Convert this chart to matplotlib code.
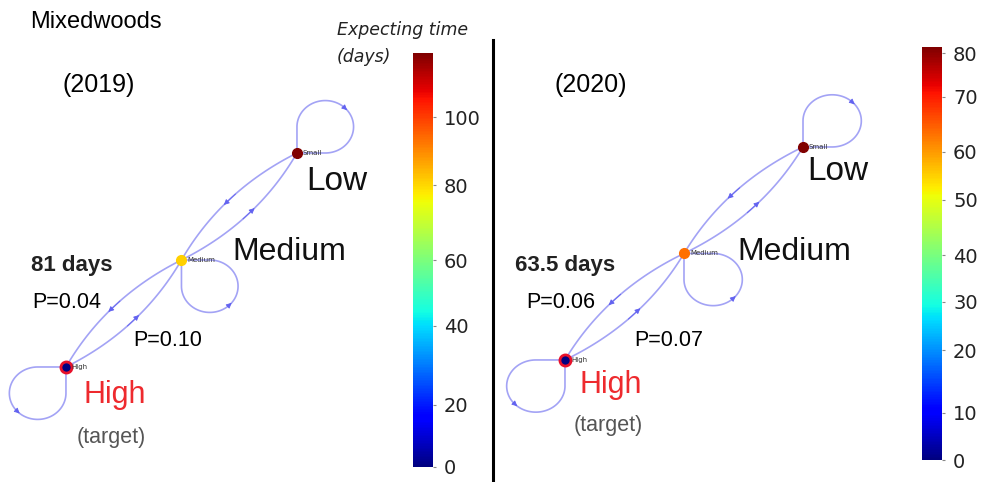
import numpy as np
import matplotlib
import matplotlib.pyplot as plt
from matplotlib.colors import FuncNorm
from matplotlib.cm import ScalarMappable
from matplotlib.patches import FancyArrowPatch

# graph: nodes laid out on a diagonal (layout units)
node_names = ['High', 'Medium', 'Small']
node_x = [0, 1, 2]
node_y = [0, 1, 2]
edges = [(2, 1), (1, 2), (1, 0), (0, 1)]        # directed transitions
loop_dirs = [(-1, -1), (1, -1), (1, 1)]          # where each self-loop sits
loop_sense = [1, 1, -1]                          # +1 ccw, -1 cw

# expected time (days) per node, coloured on the colorbar
days_2019 = [0, 81, 119]
days_2020 = [0, 63.5, 81]
p_2019 = [0.04, 0.10]
p_2020 = [0.06, 0.07]

# colorbar scales (value -> fraction of bar)
cb19_vals = [0, 20, 40, 60, 80, 100, 119]
cb19_frac = [0, 0.150, 0.341, 0.500, 0.681, 0.845, 1.0]
cb19_ticks = [0, 20, 40, 60, 80, 100]
cb20_vals = [0, 10, 20, 30, 40, 50, 60, 70, 80, 81]
cb20_frac = [0, 0.114, 0.266, 0.383, 0.496, 0.630, 0.746, 0.879, 0.985, 1.0]
cb20_ticks = [0, 10, 20, 30, 40, 50, 60, 70, 80]

EDGE = '#a3a3f5'
HEAD = '#6262f0'
SANS = 'Liberation Sans'


def make_norm(vals, frac):
    fwd = lambda v: np.interp(v, vals, frac)
    inv = lambda f: np.interp(f, frac, vals)
    return FuncNorm((fwd, inv), vmin=vals[0], vmax=vals[-1])


def arrow_head(ax, a, b):
    ax.add_patch(FancyArrowPatch(a, b, arrowstyle='-|>', mutation_scale=8,
                                 shrinkA=0, shrinkB=0, color=HEAD, lw=0.6, zorder=3))


def draw_panel(ax, days, norm):
    pts = np.column_stack([node_x, node_y]).astype(float)
    t = np.linspace(0, 1, 60)[:, None]
    rad = 0.15
    for i, j in edges:
        p0, p1 = pts[i], pts[j]
        d = p1 - p0
        ctrl = (p0 + p1) / 2 + rad * np.array([d[1], -d[0]])
        curve = (1 - t) ** 2 * p0 + 2 * (1 - t) * t * ctrl + t ** 2 * p1
        ax.plot(curve[:, 0], curve[:, 1], color=EDGE, lw=1.2, zorder=2)
        arrow_head(ax, curve[27], curve[33])
    r = 0.245
    for k, p in enumerate(pts):
        u = np.array(loop_dirs[k], float)
        u /= np.hypot(*u)
        s = loop_sense[k]
        c = p + u * r * np.sqrt(2)
        a0 = np.degrees(np.arctan2(u[1], u[0])) + 180 + s * 45
        th = np.radians(a0 + s * np.linspace(0, 270, 120))
        arc = np.column_stack([c[0] + r * np.cos(th), c[1] + r * np.sin(th)])
        loop = np.vstack([p, arc, p])
        ax.plot(loop[:, 0], loop[:, 1], color=EDGE, lw=1.2, zorder=2)
        m = len(arc) // 2
        arrow_head(ax, arc[m - 3], arc[m + 2])
    cmap = matplotlib.colormaps['jet']
    for k, p in enumerate(pts):
        col = cmap(norm(days[k]))
        if node_names[k] == 'High':
            ax.plot(p[0], p[1], 'o', ms=8, mfc=col, mec='#e8102a', mew=2, zorder=5)
        else:
            ax.plot(p[0], p[1], 'o', ms=7, mfc=col, mec=col, zorder=5)
        ax.text(p[0] + 0.05, p[1], node_names[k], fontsize=5, color='#333333',
                va='center', ha='left', zorder=6)
    ax.axis('off')


fig = plt.figure(figsize=(9.83, 4.82), dpi=100)
ov = fig.add_axes([0, 0, 1, 1])
ov.set_xlim(0, 983)
ov.set_ylim(482, 0)
ov.axis('off')

norm19 = make_norm(cb19_vals, cb19_frac)
norm20 = make_norm(cb20_vals, cb20_frac)

ax1 = fig.add_axes([0, 0, 400 / 983, 1])
ax1.set_xlim(-0.571, 2.892)
ax1.set_ylim(-1.075, 3.430)
draw_panel(ax1, days_2019, norm19)

ax2 = fig.add_axes([495 / 983, 0, 410 / 983, 1])
ax2.set_xlim(-0.588, 2.857)
ax2.set_ylim(-1.146, 3.380)
draw_panel(ax2, days_2020, norm20)

# colorbars
for rect, norm, ticks in [([413 / 983, 15 / 482, 20 / 983, 414 / 482], norm19, cb19_ticks),
                          ([922 / 983, 22 / 482, 20 / 983, 413 / 482], norm20, cb20_ticks)]:
    cax = fig.add_axes(rect)
    cb = fig.colorbar(ScalarMappable(norm=norm, cmap='jet'), cax=cax)
    cb.set_ticks(ticks)
    cb.outline.set_visible(False)
    cax.tick_params(length=2, width=0.8, color='#888888', labelsize=14,
                    labelcolor='#222222', pad=6)

# divider
ov.plot([493, 493], [40, 480], color='black', lw=2.2)

# texts
ov.text(30, 22, 'Mixedwoods', fontsize=17, family=SANS, va='center', ha='left')
ov.text(337, 30, 'Expecting time', fontsize=12.5, style='italic', va='center', ha='left', color='#222222')
ov.text(337, 57, '(days)', fontsize=12.5, style='italic', va='center', ha='left', color='#222222')

panels = [(2019, days_2019, p_2019, 62, 306, 182, 232, 83, 395, 437, 31, 32, 133),
          (2020, days_2020, p_2020, 555, 807, 172, 737, 580, 385, 426, 515, 526, 634)]
for year, days, probs, yx, lx, ly, mx, hx, hy, ty, dx, p1x, p2x in panels:
    ov.text(yx, 85, f'({year})', fontsize=18, family=SANS, va='center', ha='left')
    ov.text(lx, ly, 'Low', fontsize=24, family=SANS, va='center', ha='left', color='#111111')
    ov.text(mx, 252, 'Medium', fontsize=23, family=SANS, va='center', ha='left', color='#111111')
    ov.text(hx, hy, 'High', fontsize=22, family=SANS, va='center', ha='left', color='#ee2a2e')
    ov.text(hx - 6, ty, '(target)', fontsize=15.5, family=SANS, va='center', ha='left', color='#555555')
    ov.text(dx, 265, f'{days[1]:g} days', fontsize=16, family=SANS, weight='bold',
            va='center', ha='left', color='#222222')
    ov.text(p1x, 303, f'P={probs[0]:.2f}', fontsize=15.5, family=SANS, va='center', ha='left')
    ov.text(p2x, 340, f'P={probs[1]:.2f}', fontsize=15.5, family=SANS, va='center', ha='left')

fig.savefig('out.png', dpi=100)
